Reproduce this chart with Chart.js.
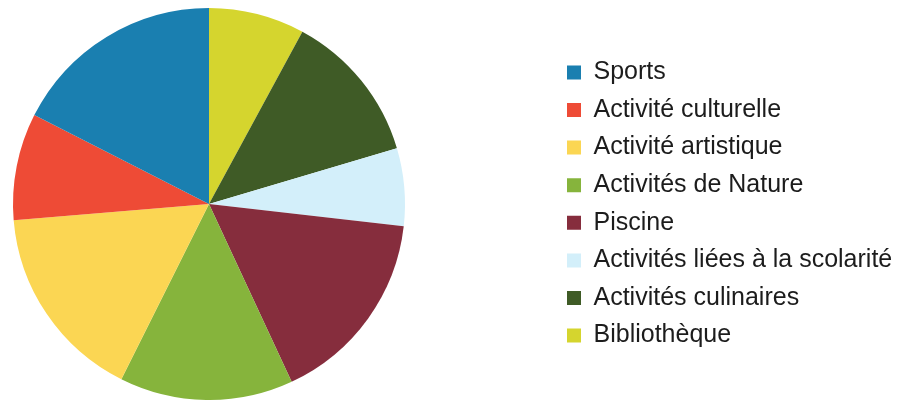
<!DOCTYPE html>
<html>
<head>
<meta charset="utf-8">
<script src="https://cdn.jsdelivr.net/npm/chart.js@4/dist/chart.umd.min.js"></script>
<style>
html, body { margin: 0; padding: 0; background: #ffffff; }
#wrap { width: 915px; height: 400px; position: relative; }
</style>
</head>
<body>
<div id="wrap"><canvas id="c" width="915" height="400"></canvas></div>
<script>
// Categories in legend order
const categories = [
  'Sports',
  'Activité culturelle',
  'Activité artistique',
  'Activités de Nature',
  'Piscine',
  'Activités liées à la scolarité',
  'Activités culinaires',
  'Bibliothèque'
];
// Shares (%)
const shares = [17.5, 8.8, 16.3, 14.3, 16.25, 6.4, 12.5, 7.9];
const colors = ['#1a7fb0', '#ee4b36', '#fbd653', '#86b43c', '#862d3d', '#d3effa', '#3f5b26', '#d5d52e'];

// The reference stacks slices counter-clockwise from 12 o'clock;
// Chart.js draws clockwise, so feed the data reversed and reverse the legend back.
const order = categories.map((_, i) => categories.length - 1 - i);

const LEGEND_BOX_X = 567;
const PIE_RIGHT = 405;
const labelPadding = 12.6;

const legendShift = {
  id: 'legendShift',
  afterLayout(chart) {
    const lg = chart.legend;
    if (!lg) return;
    const dx = (LEGEND_BOX_X - labelPadding) - lg.left;
    lg.left += dx;
    lg.right += dx;
  }
};

const chart = new Chart(document.getElementById('c'), {
  type: 'pie',
  data: {
    labels: order.map(i => categories[i]),
    datasets: [{
      data: order.map(i => shares[i]),
      backgroundColor: order.map(i => colors[i]),
      borderWidth: 0
    }]
  },
  options: {
    responsive: false,
    animation: false,
    devicePixelRatio: 1,
    layout: { padding: { top: 8, bottom: 0, left: 13, right: 0 } },
    plugins: {
      tooltip: { enabled: false },
      legend: {
        position: 'right',
        reverse: true,
        labels: {
          boxWidth: 14,
          boxHeight: 14,
          padding: labelPadding,
          color: '#1c1c1c',
          font: { family: '"Liberation Sans", Arial, sans-serif', size: 25 }
        }
      }
    }
  },
  plugins: [legendShift]
});

// Size the right padding so the pie's area ends at PIE_RIGHT
const lw = chart.legend.width;
chart.options.layout.padding.right = 915 - PIE_RIGHT - lw;
chart.update();
</script>
</body>
</html>
